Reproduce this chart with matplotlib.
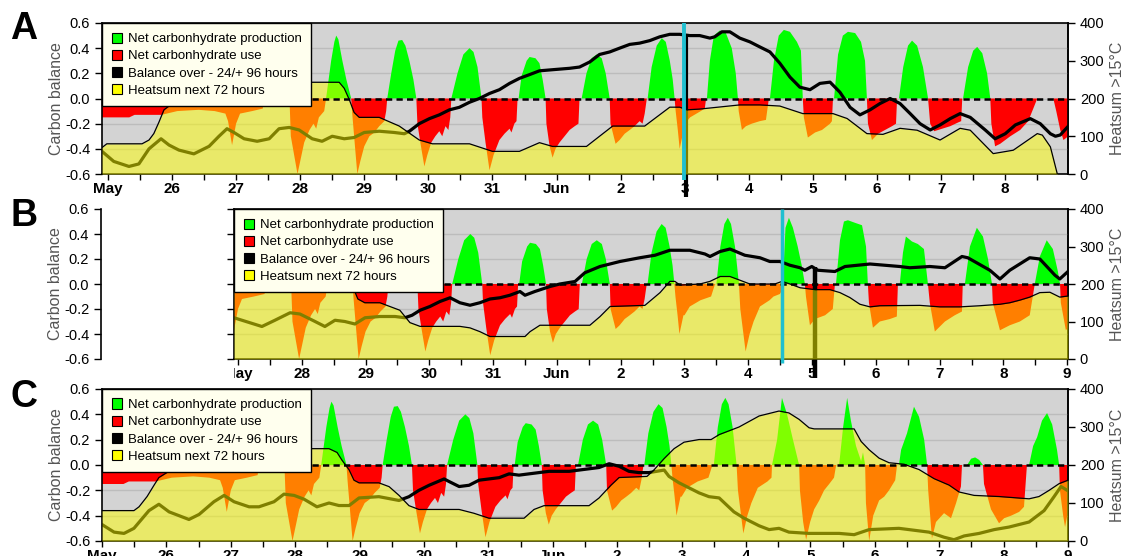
import numpy as np
import matplotlib
matplotlib.use('Agg')
import matplotlib.pyplot as plt
from matplotlib.patches import Patch
from matplotlib.transforms import Bbox, TransformedBbox
from datetime import datetime, timedelta

plt.rcParams['font.family'] = ['Liberation Sans', 'DejaVu Sans']
plt.rcParams['axes.unicode_minus'] = False

START = datetime(2015, 5, 25)  # hour 0 = May 25 00:00

# carbon balance, (hours since start, value) - same observations in all panels
OBS_CARBON = [
    (-2.5, -0.15), (8, -0.15), (10, -0.13), (20, -0.13), (22, -0.12), (26, -0.10),
    (34, -0.09), (40, -0.10), (44, -0.12), (45, -0.18), (46.5, -0.37), (48, -0.20),
    (49.5, -0.12), (54, -0.10), (58, -0.08), (58.5, 0.0), (62, 0.20), (64, 0.33),
    (66, 0.20), (68, 0.0), (68.5, -0.30), (71, -0.60), (72, -0.50), (73.5, -0.35),
    (75.5, -0.25), (77, -0.20), (78, -0.24), (79, -0.15), (81, -0.10), (81.7, 0.0),
    (83.6, 0.30), (84.8, 0.45), (85.5, 0.50), (86.3, 0.47), (87.8, 0.30), (89.3, 0.15),
    (91.1, 0.0), (91.5, -0.12), (92.6, -0.40), (93.4, -0.60), (94.5, -0.50), (96, -0.38),
    (97.9, -0.30), (99.8, -0.27), (101.6, -0.22), (103.5, -0.18), (104.2, -0.10),
    (104.6, 0.0), (106.1, 0.20), (107.6, 0.38), (108.8, 0.46), (110.2, 0.465),
    (111.4, 0.42), (112.9, 0.30), (114.4, 0.15), (115.5, 0.0), (115.9, -0.20),
    (117, -0.35), (118.5, -0.54), (119.6, -0.45), (121.1, -0.35), (122.6, -0.30),
    (124.1, -0.26), (125.2, -0.30), (126.4, -0.22), (127.5, -0.25), (128.2, -0.15),
    (128.6, 0.0), (130.9, 0.20), (133.1, 0.35), (135.4, 0.40), (136.9, 0.37),
    (138.4, 0.25), (139.9, 0.0), (140.2, -0.15), (141.4, -0.35), (142.9, -0.57),
    (144.4, -0.45), (146.6, -0.33), (148.5, -0.28), (150.4, -0.24), (151.1, -0.27),
    (152.2, -0.20), (153, -0.18), (153.4, 0.0), (153.8, 0.0), (154.9, 0.18),
    (156.8, 0.30), (157.9, 0.33), (160.1, 0.32), (161.6, 0.28), (162.8, 0.15),
    (163.9, 0.0), (164.2, -0.20), (165.4, -0.38), (166.5, -0.47), (167.6, -0.40),
    (169.1, -0.35), (171, -0.30), (172.9, -0.25), (174.8, -0.22), (176.2, -0.20),
    (176.6, 0.0), (177.4, 0.0), (179.2, 0.20), (181.1, 0.32), (183, 0.35),
    (184.9, 0.32), (186.4, 0.20), (187.9, 0.0), (188.2, -0.20), (190.1, -0.36),
    (191.6, -0.33), (193.5, -0.28), (195.4, -0.25), (197.2, -0.22), (199.1, -0.18),
    (200.2, -0.20), (201, -0.12), (201.8, 0.0), (202.1, 0.0), (203.6, 0.25),
    (205.5, 0.42), (207.4, 0.48), (208.9, 0.45), (210.4, 0.30), (211.5, 0.15),
    (212.2, 0.0), (212.6, -0.10), (213.4, -0.25), (214.1, -0.40), (215.6, -0.25),
]

# panel A: forecast from June 3
A_FORECAST = [
    (216, -0.20), (218, -0.15), (222, -0.10), (223.5, -0.08), (224, 0.0), (224.3, 0.0),
    (225.4, 0.30), (226.9, 0.50), (229.1, 0.54), (231.4, 0.52), (233.6, 0.40),
    (235.1, 0.20), (235.9, 0.0), (236.2, -0.10), (237.4, -0.25), (238.9, -0.22),
    (241.1, -0.20), (244.1, -0.18), (246.4, -0.17), (247.5, 0.0), (247.9, 0.0),
    (249.4, 0.30), (251.2, 0.50), (253.1, 0.545), (255.4, 0.53), (258, 0.45),
    (259.5, 0.38), (260.2, 0.0), (260.6, -0.15), (262.1, -0.31), (264.8, -0.27),
    (267.4, -0.25), (270.4, -0.20), (271.1, -0.18), (271.5, 0.0), (271.9, 0.0),
    (273.4, 0.35), (275.2, 0.50), (277.1, 0.53), (279.8, 0.52), (282, 0.45),
    (283.5, 0.30), (284.2, 0.0), (284.6, -0.20), (286.1, -0.33), (288.4, -0.28),
    (291, -0.25), (293.6, -0.22), (295.1, -0.20), (295.5, 0.0), (296.2, 0.0),
    (297.8, 0.25), (299.6, 0.42), (301.1, 0.46), (303, 0.42), (305.2, 0.25),
    (307.1, 0.0), (307.9, -0.20), (309.4, -0.26), (312.4, -0.24), (315.4, -0.22),
    (318.4, -0.19), (319.5, -0.18), (319.9, 0.0), (320.2, 0.0), (322.1, 0.25),
    (324, 0.38), (325.5, 0.41), (327.4, 0.36), (329.2, 0.20), (330.4, 0.0),
    (330.8, -0.20), (332.2, -0.38), (334.1, -0.36), (337.9, -0.30), (341.6, -0.25),
    (344.6, -0.18), (346.5, -0.08), (348, 0.0), (354, 0.0), (355.1, -0.10),
    (356.6, -0.25), (357.8, -0.33), (359.6, -0.30),
]

# panels B and C: June 3 observed
BC_JUNE3 = [
    (216, -0.25), (218, -0.18), (222, -0.13), (226, -0.10), (227.5, 0.0), (228, 0.0),
    (229.5, 0.30), (231, 0.48), (232.3, 0.53), (233.5, 0.48), (235, 0.30),
    (236.5, 0.0), (237, -0.20), (239, -0.54), (240.5, -0.40), (242, -0.30),
    (244.4, -0.18), (248, -0.13), (249.5, -0.10),
]

B_FORECAST = [
    (251.9, -0.08), (252.7, -0.05), (253, 0.0), (254, 0.45), (255.3, 0.53),
    (256.8, 0.45), (258.6, 0.30), (260.1, 0.15), (261.3, 0.0), (261.7, -0.10),
    (263.2, -0.33), (265.1, -0.28), (268.9, -0.25), (271.8, -0.20), (272.6, 0.0),
    (273, 0.0), (274.5, 0.35), (276, 0.50), (277.5, 0.51), (280.1, 0.49),
    (282.8, 0.47), (284.3, 0.30), (285, 0.0), (285.4, -0.15), (286.9, -0.35),
    (289.5, -0.30), (293.3, -0.28), (295.9, -0.26), (296.3, 0.0), (297, 0.0),
    (298.2, 0.25), (299.3, 0.38), (301.6, 0.34), (303.8, 0.32), (306.1, 0.28),
    (307.6, 0.0), (308.3, -0.15), (310.2, -0.38), (314, -0.30), (317.7, -0.25),
    (320.4, -0.22), (320.7, 0.0), (321.5, 0.0), (323.4, 0.30), (326, 0.45),
    (328.3, 0.38), (330.2, 0.20), (331.7, 0.0), (332, -0.15), (334.7, -0.37),
    (338.4, -0.33), (342.2, -0.30), (345.9, -0.25), (347.8, 0.0), (349.7, 0.22),
    (352.3, 0.35), (354.6, 0.28), (356.5, 0.10), (357.3, 0.0), (357.6, -0.15),
    (359.5, -0.37), (360.3, -0.35),
]

C_REST = [
    (249.7, 0.0), (251.6, 0.20), (253.4, 0.53), (255.3, 0.40), (257.5, 0.20),
    (259.8, 0.0), (260.1, -0.20), (261.3, -0.45), (262.4, -0.59), (263.9, -0.45),
    (265.4, -0.35), (267.3, -0.28), (269.1, -0.20), (271, -0.15), (272.8, -0.10),
    (273.6, 0.0), (274.7, 0.0), (276.2, 0.30), (277.7, 0.53), (279.1, 0.35),
    (281, 0.15), (282.9, 0.03), (283.6, 0.10), (284.4, 0.0), (284.7, -0.30),
    (285.9, -0.60), (287.4, -0.40), (289.6, -0.28), (291.5, -0.25), (293.3, -0.20),
    (295.6, -0.12), (296.3, 0.0), (297, 0.0), (297.8, 0.12), (300, 0.25),
    (302.6, 0.46), (304.5, 0.38), (306.4, 0.20), (307.5, 0.0), (307.9, -0.20),
    (309.3, -0.58), (310.8, -0.45), (313.8, -0.38), (316.4, -0.42), (318.3, -0.30),
    (320.1, -0.17), (320.5, 0.0), (322.4, 0.0), (323.9, 0.05), (325.4, 0.06),
    (326.9, 0.04), (328.3, 0.0), (328.7, -0.15), (331.3, -0.35), (334.3, -0.46),
    (336.2, -0.42), (338.8, -0.40), (341.8, -0.37), (343.6, -0.33), (344.7, 0.0),
    (345.5, 0.0), (347, 0.15), (348.5, 0.22), (350.3, 0.35), (352.2, 0.41),
    (354.1, 0.32), (355.9, 0.12), (356.7, 0.0), (357, -0.20), (358.2, -0.40),
    (358.9, -0.49), (359.7, -0.40),
]

# heatsum next 72 hours (degC above 15)
A_HEAT = [
    (-2.2, 70), (-0.4, 80), (12.8, 80), (15.4, 90), (17.2, 107), (19.1, 137), (21, 170),
    (26.6, 200), (41.6, 225), (56.6, 240), (74.6, 243), (86.6, 243), (88.5, 227),
    (90.4, 197), (92.2, 163), (94.1, 150), (101.6, 150), (109.1, 127), (116.6, 90),
    (121.5, 80), (135.4, 80), (144, 60), (154.1, 60), (161.6, 83), (166.5, 73),
    (179.2, 73), (189, 127), (201, 127), (210.4, 177), (214.1, 177), (216.8, 170),
    (221.6, 172), (236.6, 183), (244.1, 183), (251.6, 180), (260.2, 160), (271.5, 160),
    (276.8, 147), (284.2, 107), (290.2, 105), (296.6, 121), (303, 116), (311.6, 90),
    (319.1, 121), (322.9, 116), (331.5, 54), (339, 63), (348, 107), (349.9, 103),
    (352.9, 72), (355.5, 0),
]

B_HEAT = [
    (46.5, 200), (52, 215), (58.2, 228), (71.3, 240), (88.2, 243),
    (90.8, 200), (93.1, 160), (95.7, 150), (101.4, 150), (108.9, 130), (112.7, 97),
    (116.5, 87), (131.5, 87), (135.3, 83), (139, 73), (142.8, 60), (156, 60),
    (157.9, 73), (161.6, 90), (180.4, 90), (184.2, 113), (188, 140), (201.1, 143),
    (206.8, 177), (210.5, 207), (212.4, 207), (214.3, 197), (221.8, 200),
    (225.6, 207), (229.4, 220), (233.1, 220), (236.9, 210), (240.6, 200), (250, 200),
    (252.7, 207), (255.7, 200), (259.5, 190), (265.1, 185), (270.7, 185),
    (274.5, 177), (278.2, 164), (282, 146), (285.8, 139), (289.5, 142), (304.6, 143),
    (312.1, 139), (319.6, 139), (327.1, 142), (334.7, 146), (338.4, 150),
    (342.2, 157), (345.9, 165), (349.7, 177), (353.5, 178), (357.2, 165), (360.3, 168),
]

C_HEAT = [
    (0, 80), (11.9, 80), (13.8, 90), (16.8, 117), (19.4, 147), (21.2, 167), (28.7, 200),
    (43.6, 225), (58.5, 240), (76.4, 243), (84.6, 243), (87.6, 233), (89.4, 213),
    (92.1, 187), (93.9, 160), (95.8, 153), (103.2, 153), (107, 143), (110.7, 120),
    (114.4, 93), (118.1, 83), (133.1, 83), (138.6, 73), (144.2, 60), (157.3, 60),
    (161, 83), (164.7, 93), (181.5, 93), (185.2, 113), (189.7, 147), (192.7, 167),
    (203.1, 170), (205.7, 187), (209.5, 217), (213.2, 243), (216.9, 260), (222.5, 267),
    (227, 267), (230, 280), (237.4, 300), (244.9, 329), (252.3, 342), (256, 337),
    (259.8, 320), (263.5, 298), (265.4, 295), (280.3, 295), (282.9, 262), (285.9, 240),
    (289.6, 218), (293.3, 206), (298.9, 202), (304.5, 188), (310.1, 164), (315.7, 147),
    (319.4, 129), (325, 120), (334.3, 117), (345.5, 111), (349.2, 117), (352.9, 133),
    (356.7, 151), (360, 160),
]

# balance over -24/+96 hours
A_BALANCE = [
    (-2.2, -0.42), (2.2, -0.50), (7.9, -0.54), (11.6, -0.52), (15.4, -0.40),
    (19.9, -0.32), (22.9, -0.37), (26.6, -0.41), (32.2, -0.44), (37.9, -0.38),
    (41.6, -0.30), (44.6, -0.24), (47.2, -0.27), (51, -0.32), (55.9, -0.34),
    (60.4, -0.32), (64.1, -0.24), (67.9, -0.23), (71.6, -0.25), (76.5, -0.32),
    (80.2, -0.34), (84, -0.30), (88.5, -0.32), (92.2, -0.31), (96, -0.27),
    (101.6, -0.26), (107.2, -0.27), (111, -0.28), (112.9, -0.26), (116.6, -0.20),
    (120.4, -0.16), (124.1, -0.13), (127.9, -0.09), (131.6, -0.07), (135.4, -0.03),
    (139.1, 0.0), (142.9, 0.04), (146.6, 0.07), (150.4, 0.12), (154.1, 0.16),
    (157.9, 0.19), (161.6, 0.22), (167.2, 0.23), (172.9, 0.24), (176.6, 0.25),
    (180.4, 0.29), (184.1, 0.35), (187.9, 0.37), (191.6, 0.40), (195.4, 0.43),
    (199.1, 0.44), (202.9, 0.46), (206.6, 0.49), (210.4, 0.51), (214.1, 0.51),
    (217.9, 0.50), (221.6, 0.50), (225.4, 0.48), (227.2, 0.49), (229.9, 0.53),
    (232.9, 0.53), (236.6, 0.48), (240.4, 0.45), (244.1, 0.41), (247.9, 0.37),
    (251.6, 0.28), (255.4, 0.17), (259.1, 0.09), (262.9, 0.07), (266.6, 0.12),
    (270.4, 0.13), (274.1, 0.05), (277.9, -0.07), (281.6, -0.13), (285.4, -0.09),
    (289.1, -0.04), (292.9, 0.0), (296.6, -0.04), (300.4, -0.12), (304.1, -0.20),
    (307.9, -0.25), (311.6, -0.21), (315.4, -0.16), (319.1, -0.12), (322.9, -0.15),
    (328.5, -0.25), (332.2, -0.32), (336, -0.28), (339.8, -0.21), (345.4, -0.16),
    (349.1, -0.20), (352.9, -0.28), (354.8, -0.30), (356.6, -0.29), (359.6, -0.22),
]

B_BALANCE = [
    (46.5, -0.27), (52.5, -0.31), (57, -0.34), (61.9, -0.29), (67.6, -0.23),
    (71.3, -0.24), (77, -0.30), (80.7, -0.34), (84.5, -0.29), (88.2, -0.30),
    (92, -0.32), (95.8, -0.27), (101.4, -0.26), (107.1, -0.26), (110.8, -0.27),
    (113.5, -0.25), (116.5, -0.21), (120.2, -0.18), (124, -0.14), (127.8, -0.11),
    (131.5, -0.15), (135.3, -0.17), (139, -0.15), (142.8, -0.12), (146.6, -0.11),
    (150.3, -0.09), (154.1, -0.06), (156, -0.09), (159.7, -0.06), (165.4, -0.02),
    (169.1, 0.0), (174.8, 0.02), (178.5, 0.09), (184.2, 0.14), (191.7, 0.18),
    (199.2, 0.21), (204.9, 0.23), (210.5, 0.27), (218, 0.27), (223.7, 0.24),
    (225.6, 0.22), (229.4, 0.26), (233.1, 0.28), (238.7, 0.23), (244.4, 0.21),
    (248.1, 0.18), (251.9, 0.18), (255.7, 0.15), (259.5, 0.13), (261.3, 0.11),
    (263.9, 0.14), (266.2, 0.11), (272.6, 0.10), (276.4, 0.14), (285.8, 0.16),
    (297, 0.14), (300.8, 0.13), (308.3, 0.14), (314, 0.13), (320.4, 0.22),
    (322.6, 0.21), (330.9, 0.11), (334.7, 0.04), (338.4, 0.11), (345.9, 0.21),
    (349.7, 0.20), (355.4, 0.07), (357.2, 0.04), (360.3, 0.10),
]

C_BALANCE = [
    (0, -0.47), (4.5, -0.53), (8.2, -0.54), (11.9, -0.50), (17.5, -0.36),
    (21.2, -0.31), (25, -0.37), (32.4, -0.43), (36.2, -0.39), (41.7, -0.29),
    (45.5, -0.24), (49.2, -0.29), (54.8, -0.33), (58.5, -0.33), (64.1, -0.29),
    (67.8, -0.23), (71.6, -0.24), (75.3, -0.27), (80.1, -0.33), (84.6, -0.30),
    (88.3, -0.32), (92.1, -0.32), (95.8, -0.26), (103.2, -0.25), (110.7, -0.28),
    (114.4, -0.25), (118.1, -0.20), (121.9, -0.16), (127.5, -0.11), (129.3, -0.13),
    (133.1, -0.17), (136.8, -0.16), (140.5, -0.12), (148, -0.10), (151.7, -0.07),
    (155.4, -0.08), (159.1, -0.07), (166.6, -0.05), (174.1, -0.05), (177.8, -0.04),
    (185.2, -0.02), (189, 0.01), (192.7, -0.01), (196.4, -0.05), (200.1, -0.06),
    (203.9, -0.06), (209.5, -0.04), (211.3, -0.09), (215, -0.14), (222.5, -0.22),
    (226.2, -0.25), (230, -0.26), (235.5, -0.37), (239.3, -0.42), (244.9, -0.48),
    (248.6, -0.51), (252.3, -0.50), (256, -0.53), (263.5, -0.54), (274.7, -0.54),
    (280.3, -0.55), (285.9, -0.51), (297, -0.50), (308.2, -0.53), (313.8, -0.57),
    (317.5, -0.59), (321.3, -0.56), (326.9, -0.54), (332.5, -0.51), (338, -0.49),
    (345.5, -0.45), (351.1, -0.36), (354.8, -0.25), (357.4, -0.17), (359.7, -0.20),
]

# vertical markers (hours)
A_CYAN, A_NOW = 215.6, 216.5
B_CYAN, B_NOW = 252.7, 265.1

LEGEND_LABELS = ['Net carbonhydrate production', 'Net carbonhydrate use',
                 'Balance over - 24/+ 96 hours', 'Heatsum next 72 hours']
LEGEND_COLORS = ['#00ff00', '#ff0000', '#000000', '#ffff00']

W, H = 1123, 556
GRAY_TXT = '#555555'


def heat_to_cb(h):
    return (np.asarray(h, dtype=float) - 200.0) * 0.003


def cb_to_heat(c):
    return np.asarray(c, dtype=float) / 0.003 + 200.0


def xy(pairs):
    arr = np.array(pairs, dtype=float)
    return arr[:, 0], arr[:, 1]


def set_day_ticks(ax):
    lo, hi = ax.get_xlim()
    days = [d for d in range(0, 17) if lo <= 24 * d <= hi + 1e-6]
    labels = []
    for i, d in enumerate(days):
        date = START + timedelta(days=d)
        labels.append(date.strftime('%b') if (i == 0 or date.day == 1) else str(date.day))
    ax.set_xticks([24 * d for d in days])
    ax.set_xticklabels(labels, fontweight='bold', fontsize=11)
    ax.set_xticks([24 * d + 12 for d in range(-1, 16) if lo <= 24 * d + 12 <= hi], minor=True)
    ax.tick_params(axis='x', which='major', length=4.5, width=1, pad=1.5)
    ax.tick_params(axis='x', which='minor', length=4, width=1)


def draw_panel(ax, carbon, heat, balance, xlim, ylabels=True):
    ax.set_facecolor('#d3d3d3')
    ax.set_xlim(*xlim)
    ax.set_ylim(-0.6, 0.6)

    t, c = xy(carbon)
    ax.fill_between(t, 0, c, where=c > 0, interpolate=True, color='#00ff00', lw=0, zorder=1)
    ax.fill_between(t, 0, c, where=c < 0, interpolate=True, color='#ff0000', lw=0, zorder=1)

    tb, b = xy(balance)
    ax.plot(tb, b, color='k', lw=2.3, zorder=2)

    th, h = xy(heat)
    ax.fill_between(th, -0.6, heat_to_cb(h), color='#ffff00', alpha=0.5, lw=0, zorder=3)
    ax.plot(th, heat_to_cb(h), color='k', lw=0.9, zorder=4)

    ax.axhline(0, color='k', lw=1.8, ls=(0, (2.5, 1.7)), zorder=4)

    ax.set_yticks(np.round(np.arange(-0.6, 0.61, 0.2), 1))
    ax.yaxis.set_major_formatter(plt.FormatStrFormatter('%.1f'))
    ax.grid(axis='y', color='#bcbcbc', lw=1)
    ax.set_axisbelow(True)
    ax.tick_params(axis='y', length=5, width=1, labelsize=10.5, labelleft=ylabels)
    if ylabels:
        ax.set_ylabel('Carbon balance', color=GRAY_TXT, fontsize=11.5, labelpad=1)
    for sp in ax.spines.values():
        sp.set_linewidth(1.2)

    set_day_ticks(ax)

    sec = ax.secondary_yaxis('right', functions=(cb_to_heat, heat_to_cb))
    sec.set_yticks([0, 100, 200, 300, 400])
    sec.tick_params(length=5, width=1, labelsize=10.5)
    sec.spines['right'].set_linewidth(1.2)
    sec.set_ylabel('Heatsum >15°C', color=GRAY_TXT, fontsize=11.5)

    handles = [Patch(facecolor=col, edgecolor='k', lw=0.8) for col in LEGEND_COLORS]
    leg = ax.legend(handles, LEGEND_LABELS, loc='upper left', bbox_to_anchor=(0, 1),
                    borderaxespad=0, fancybox=False, framealpha=1, facecolor='#ffffee',
                    edgecolor='k', fontsize=9.5, handlelength=0.8, handleheight=0.8,
                    handletextpad=0.45, labelspacing=0.35, borderpad=0.72)
    leg.get_frame().set_linewidth(1.0)
    leg.set_zorder(10)


fig = plt.figure(figsize=(W / 100, H / 100), dpi=100)


def fig_rect(x0, x1, ytop, ybot):
    return [x0 / W, 1 - ybot / H, (x1 - x0) / W, (ybot - ytop) / H]


axA = fig.add_axes(fig_rect(102, 1068, 23, 174))
axB = fig.add_axes(fig_rect(234, 1068, 209, 359))
axC = fig.add_axes(fig_rect(102, 1068, 389, 541))

draw_panel(axA, OBS_CARBON + A_FORECAST, A_HEAT, A_BALANCE, (-2.2, 359.5))
draw_panel(axB, OBS_CARBON + BC_JUNE3 + B_FORECAST, B_HEAT, B_BALANCE, (46.5, 360.3),
           ylabels=False)
draw_panel(axC, OBS_CARBON + BC_JUNE3 + C_REST, C_HEAT, C_BALANCE, (0, 360))

# B has its carbon scale drawn further left
axBl = fig.add_axes(fig_rect(101, 234, 209, 359))
axBl.patch.set_visible(False)
axBl.set_ylim(-0.6, 0.6)
axBl.set_yticks(np.round(np.arange(-0.6, 0.61, 0.2), 1))
axBl.yaxis.set_major_formatter(plt.FormatStrFormatter('%.1f'))
axBl.set_xticks([])
for side in ['top', 'right', 'bottom']:
    axBl.spines[side].set_visible(False)
axBl.spines['left'].set_linewidth(1.2)
axBl.tick_params(axis='y', length=5, width=1, labelsize=10.5)
axBl.set_ylabel('Carbon balance', color=GRAY_TXT, fontsize=11.5, labelpad=1)

# B tick labels are cut at the left edge of the plot box
clip = TransformedBbox(Bbox([[0, -1], [1.05, 1]]), axB.transAxes)
for tk in axB.xaxis.get_major_ticks():
    tk.label1.set_clip_box(clip)
    tk.label1.set_clip_on(True)

# vertical markers
axA.plot([A_NOW, A_NOW], [0.51, -0.78], color='k', lw=3, zorder=2, clip_on=False,
         solid_capstyle='butt')
axA.plot([A_CYAN, A_CYAN], [0.6, -0.65], color='#20bfd0', lw=2.8, zorder=6, clip_on=False,
         solid_capstyle='butt')
axB.plot([B_NOW, B_NOW], [0.14, -0.75], color='k', lw=3.2, zorder=2, clip_on=False,
         solid_capstyle='butt')
axB.plot([B_CYAN, B_CYAN], [0.6, -0.63], color='#20bfd0', lw=2.5, zorder=6, clip_on=False,
         solid_capstyle='butt')

for letter, yc in [('A', 29), ('B', 216), ('C', 397)]:
    fig.text(24 / W, 1 - yc / H, letter, ha='center', va='center', fontsize=27,
             fontweight='bold')

fig.savefig('out.png', dpi=100)
